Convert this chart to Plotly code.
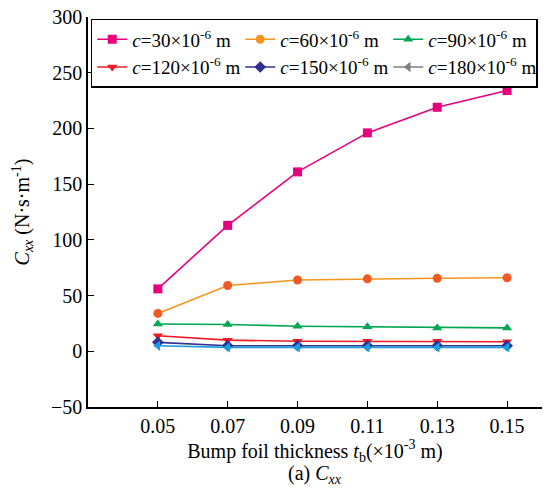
import plotly.graph_objects as go

# Bump foil thickness (x 1e-3 m)
thickness = [0.05, 0.07, 0.09, 0.11, 0.13, 0.15]

# Direct damping coefficient C_xx (N·s/m) for each nominal clearance c
cxx_c30 = [56, 113, 161, 196, 219, 234]
cxx_c60 = [34, 59, 64, 65, 65.5, 66]
cxx_c90 = [24.5, 24, 22.5, 22, 21, 21]
cxx_c120 = [14, 10, 9, 9, 9, 8.5]
cxx_c150 = [8, 5, 5, 5, 5, 5]
cxx_c180 = [5, 3.5, 3.5, 3.5, 3.5, 3.5]

clearances = ["30", "60", "90", "120", "150", "180"]
x_ticks = [0.05, 0.07, 0.09, 0.11, 0.13, 0.15]
y_ticks = [-50, 0, 50, 100, 150, 200, 250, 300]

series = [
    (cxx_c30, "#E6007E", "#E6007E", "square", "#E6007E"),
    (cxx_c60, "#F7941D", "#F15A22", "circle", "#F7941D"),
    (cxx_c90, "#00A651", "#00A651", "triangle-up", "#00A651"),
    (cxx_c120, "#ED1C24", "#ED1C24", "triangle-down", "#ED1C24"),
    (cxx_c150, "#2E3192", "#2E3192", "diamond", "#2E3192"),
    (cxx_c180, "#1B9DD9", "#1BA0E2", "triangle-left", "#7F7F7F"),
]

FONT = "Times New Roman, Times, serif"

fig = go.Figure()

for (vals, lc, mc, sym, legc), c in zip(series, clearances):
    # curves drawn on the axes
    fig.add_trace(go.Scatter(
        x=thickness, y=vals, mode="lines+markers",
        line=dict(color=lc, width=1.6),
        marker=dict(symbol=sym, size=9, color=mc),
        showlegend=False,
    ))

for (vals, lc, mc, sym, legc), c in zip(series, clearances):
    # legend entries
    fig.add_trace(go.Scatter(
        x=[None], y=[None], mode="lines+markers",
        line=dict(color=legc, width=1.6),
        marker=dict(symbol=sym, size=9, color=legc),
        name=f"<i>c</i>={c}×10<sup>-6</sup> m",
    ))

fig.update_layout(
    width=544, height=492,
    margin=dict(l=88, r=2, t=17, b=85),
    paper_bgcolor="white", plot_bgcolor="white",
    font=dict(family=FONT, size=18, color="black"),
    showlegend=True,
    legend=dict(
        orientation="h", x=0.006, y=0.995, xanchor="left", yanchor="top",
        bgcolor="white", bordercolor="black", borderwidth=1.5,
        font=dict(family=FONT, size=19, color="black"),
        entrywidth=103, entrywidthmode="pixels", itemwidth=30,
        tracegroupgap=0,
    ),
    xaxis=dict(
        range=[0.03, 0.16], tickvals=x_ticks,
        ticktext=[f"{v:.2f}" for v in x_ticks],
        ticks="inside", ticklen=6, tickwidth=1.2, tickcolor="black",
        showline=True, linecolor="black", linewidth=1.5,
        showgrid=False, zeroline=False,
        tickfont=dict(family=FONT, size=20),
        title=dict(text="Bump foil thickness <i>t</i><sub>b</sub>(×10<sup>-3</sup> m)",
                   font=dict(family=FONT, size=20), standoff=8),
    ),
    yaxis=dict(
        range=[-50, 300], tickvals=y_ticks,
        ticks="inside", ticklen=6, tickwidth=1.2, tickcolor="black",
        showline=True, linecolor="black", linewidth=1.5,
        showgrid=False, zeroline=False,
        tickfont=dict(family=FONT, size=20),
        title=dict(text="<i>C</i><sub><i>xx</i></sub> (N·s·m<sup>-1</sup>)",
                   font=dict(family=FONT, size=20), standoff=16),
    ),
    annotations=[dict(
        text="(a) <i>C</i><sub><i>xx</i></sub>",
        xref="paper", yref="paper", x=0.5, y=-0.172,
        xanchor="center", yanchor="middle", showarrow=False,
        font=dict(family=FONT, size=20),
    )],
)

fig.write_html("out.html")
